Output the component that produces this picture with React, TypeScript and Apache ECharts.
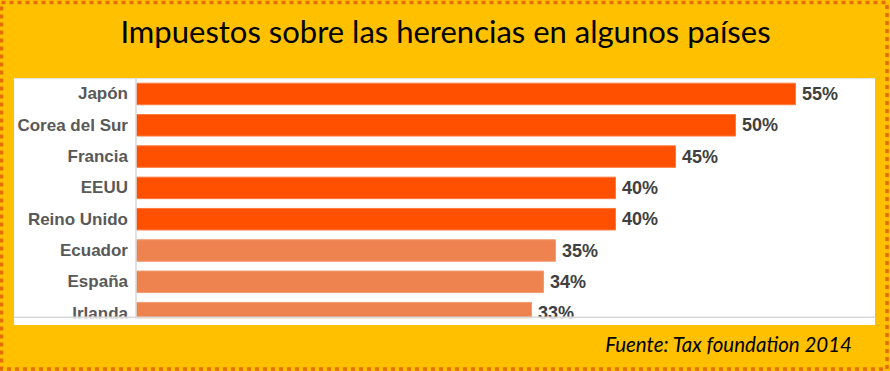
import React, { useEffect, useRef } from "react";
import * as echarts from "echarts";

const categories = ["Japón", "Corea del Sur", "Francia", "EEUU", "Reino Unido", "Ecuador", "España", "Irlanda"];
const values = [55, 50, 45, 40, 40, 35, 34, 33];
const highlighted = [true, true, true, true, true, false, false, false];
const titleText = "Impuestos sobre las herencias en algunos países";
const sourceText = "Fuente: Tax foundation 2014";

export default function App() {
  const ref = useRef<HTMLDivElement>(null);
  useEffect(() => {
    if (!ref.current) return;
    const chart = echarts.init(ref.current, null, { renderer: "svg" });
    const data = values.map((v, i) => ({
      value: v,
      itemStyle: highlighted[i]
        ? { color: "#FF5000", borderColor: "#FF7A3D", borderWidth: 1 }
        : { color: "#EE8350", borderColor: "#F29A70", borderWidth: 1 },
    }));
    chart.setOption({
      animation: false,
      backgroundColor: "#FFC000",
      grid: { left: 136, top: 78.3, width: 720, height: 250.5, containLabel: false },
      xAxis: {
        type: "value",
        min: 0,
        max: 60,
        show: false,
      },
      yAxis: {
        type: "category",
        inverse: true,
        data: categories,
        axisLine: { show: true, lineStyle: { color: "#D9D9D9", width: 1.5 } },
        axisTick: { show: false },
        axisLabel: {
          color: "#595959",
          fontFamily: "Liberation Sans, Arial, sans-serif",
          fontWeight: "bold",
          fontSize: 17,
          margin: 8,
        },
        z: 3,
      },
      series: [
        {
          type: "bar",
          data,
          barWidth: 22.5,
          label: {
            show: true,
            position: "right",
            distance: 6,
            formatter: "{c}%",
            color: "#404040",
            fontFamily: "Liberation Sans, Arial, sans-serif",
            fontWeight: "bold",
            fontSize: 18,
          },
        },
      ],
      graphic: [
        {
          type: "rect",
          z: -10,
          silent: true,
          shape: { x: 14, y: 78, width: 861, height: 247 },
          style: { fill: "#FFFFFF" },
        },
        {
          type: "rect",
          z: -9,
          silent: true,
          shape: { x: 14, y: 78, width: 861, height: 1.2 },
          style: { fill: "#E6E6E6" },
        },
        {
          type: "rect",
          z: 100,
          silent: true,
          shape: { x: 14, y: 316.5, width: 861, height: 1.8 },
          style: { fill: "#D9D9D9" },
        },
        {
          type: "rect",
          z: 100,
          silent: true,
          shape: { x: 14, y: 318.3, width: 861, height: 6.7 },
          style: { fill: "#FFFFFF" },
        },
        {
          type: "rect",
          z: 100,
          silent: true,
          shape: { x: 0, y: 325, width: 890, height: 46 },
          style: { fill: "#FFC000" },
        },
        {
          type: "text",
          z: 101,
          silent: true,
          x: 445.5,
          y: 31,
          style: {
            text: titleText,
            fill: "#000000",
            font: "31px Lato, 'Open Sans', sans-serif",
            align: "center",
            verticalAlign: "middle",
          },
        },
        {
          type: "text",
          z: 101,
          silent: true,
          x: 852,
          y: 344,
          style: {
            text: sourceText,
            fill: "#000000",
            font: "italic 20.5px Lato, 'Open Sans', sans-serif",
            align: "right",
            verticalAlign: "middle",
          },
        },
        {
          type: "rect",
          z: 102,
          silent: true,
          shape: { x: 1.5, y: 2.5, width: 885.5, height: 366.5 },
          style: { fill: "none", stroke: "#E46C0A", lineWidth: 3.5, lineDash: [4, 4] },
        },
      ],
    });
    return () => chart.dispose();
  }, []);
  return <div ref={ref} style={{ position: "fixed", left: 0, top: 0, width: 890, height: 371 }} />;
}
